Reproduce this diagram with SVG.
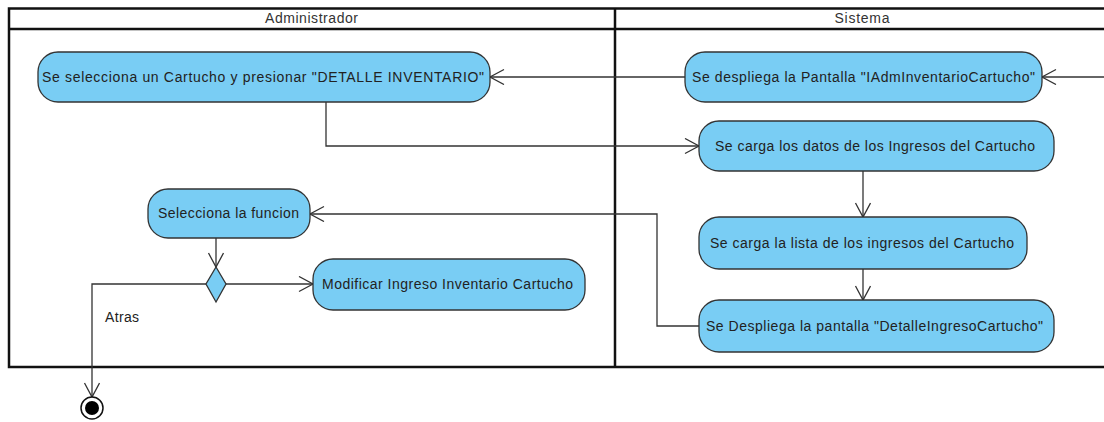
<svg xmlns="http://www.w3.org/2000/svg" width="1104" height="422" viewBox="0 0 1104 422">
<defs>
<style>
.lane{fill:none;stroke:#111;stroke-width:2.5}
.hdr{font-family:"Liberation Sans",Arial,sans-serif;font-size:14px;fill:#333;text-anchor:middle}
.node rect,.node polygon{fill:#79cdf4;stroke:#333;stroke-width:1.3}
.node text,.lbl{font-family:"Liberation Sans",Arial,sans-serif;font-size:14px;fill:#222;text-anchor:middle}
.edge{fill:none;stroke:#333;stroke-width:1.3;marker-end:url(#arr)}
</style>
<marker id="arr" markerUnits="userSpaceOnUse" markerWidth="18" markerHeight="18" refX="15" refY="8" orient="auto">
<path d="M1,0.5 L15,8 L1,15.5" fill="none" stroke="#333" stroke-width="1.3"/>
</marker>
</defs>
<g id="lanes">
<rect class="lane" x="9" y="8.5" width="1110" height="358.5"/>
<line class="lane" x1="9" y1="29" x2="1104" y2="29"/>
<line class="lane" x1="615" y1="8.5" x2="615" y2="367"/>
<text class="hdr" x="311.5" y="23" textLength="93" lengthAdjust="spacing">Administrador</text>
<text class="hdr" x="862" y="23" textLength="55" lengthAdjust="spacing">Sistema</text>
</g>
<g id="connectors">
<path class="edge" d="M1104,77 H1042"/>
<path class="edge" d="M685,77 H490"/>
<path class="edge" d="M326,102 V146 H699"/>
<path class="edge" d="M863,171 V217"/>
<path class="edge" d="M863,269 V300"/>
<path class="edge" d="M699,326 H657 V214 H310"/>
<path class="edge" d="M216,238 V267"/>
<path class="edge" d="M226,284 H313"/>
<path class="edge" d="M206,284 H92 V397"/>
<text class="lbl" x="122" y="322" textLength="34" lengthAdjust="spacing">Atras</text>
</g>
<g id="n1" class="node">
<rect x="38" y="52" width="452" height="50" rx="20"/>
<text x="263" y="82" textLength="442" lengthAdjust="spacing">Se selecciona un Cartucho y presionar "DETALLE INVENTARIO"</text>
</g>
<g id="n2" class="node">
<rect x="685" y="52" width="357" height="50" rx="20"/>
<text x="863.5" y="82" textLength="343" lengthAdjust="spacing">Se despliega la Pantalla "IAdmInventarioCartucho"</text>
</g>
<g id="n3" class="node">
<rect x="699" y="121" width="355" height="50" rx="20"/>
<text x="875" y="151" textLength="320" lengthAdjust="spacing">Se carga los datos de los Ingresos del Cartucho</text>
</g>
<g id="n4" class="node">
<rect x="699" y="217" width="328" height="52" rx="20"/>
<text x="862" y="248" textLength="304" lengthAdjust="spacing">Se carga la lista de los ingresos del Cartucho</text>
</g>
<g id="n5" class="node">
<rect x="699" y="300" width="355" height="52" rx="20"/>
<text x="874.5" y="331" textLength="337" lengthAdjust="spacing">Se Despliega la pantalla "DetalleIngresoCartucho"</text>
</g>
<g id="n6" class="node">
<rect x="148" y="189" width="162" height="49" rx="20"/>
<text x="228.5" y="218" textLength="141" lengthAdjust="spacing">Selecciona la funcion</text>
</g>
<g id="n7" class="node">
<rect x="313" y="259" width="272" height="51" rx="20"/>
<text x="447.5" y="289" textLength="251" lengthAdjust="spacing">Modificar Ingreso Inventario Cartucho</text>
</g>
<g id="decision" class="node">
<polygon points="216,267 226,284 216,302 206,284"/>
</g>
<g id="end">
<circle cx="92" cy="408" r="11" fill="#fff" stroke="#111" stroke-width="1.5"/>
<circle cx="92" cy="408" r="7" fill="#000"/>
</g>
</svg>
